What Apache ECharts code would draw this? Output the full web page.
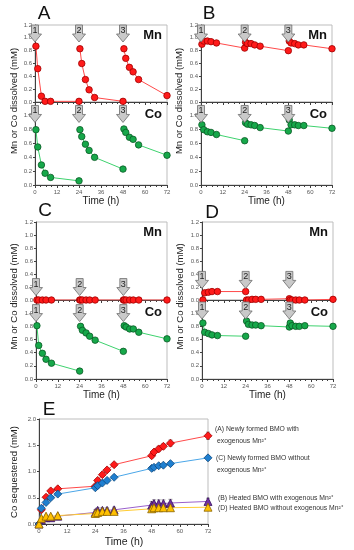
<!DOCTYPE html>
<html><head><meta charset="utf-8">
<script src="https://cdn.jsdelivr.net/npm/echarts@6/dist/echarts.min.js"></script>
<style>html,body{margin:0;padding:0;background:#fff}#c{width:354px;height:550px}</style>
</head><body><div id="c"></div><script>
// ---------- data ----------
const cycleTimes = [[0.5,1.5,3.5,5.5,8.5,24],[24.5,25.5,27.5,29.5,32.5,48],[48.5,49.5,51.5,53.5,56.5,72]];
const additionTimes = [0, 24, 48];
const additionLabels = ['1', '2', '3'];
const mnA = [[0.87,0.52,0.09,0.01,0.01,0.01],[0.83,0.60,0.35,0.19,0.07,0.01],[0.83,0.68,0.54,0.47,0.35,0.10]];
const coA = [[0.80,0.55,0.29,0.17,0.11,0.06],[0.80,0.70,0.59,0.50,0.40,0.23],[0.81,0.76,0.69,0.66,0.58,0.43]];
const mnB = [[0.90,0.95,0.95,0.94,0.92,0.84],[0.93,0.91,0.91,0.89,0.87,0.80],[0.95,0.92,0.91,0.89,0.89,0.83]];
const coB = [[0.87,0.80,0.77,0.76,0.73,0.64],[0.90,0.88,0.87,0.86,0.83,0.78],[0.94,0.87,0.87,0.86,0.86,0.82]];
const mnC = [[0.00,0.00,0.00,0.00,0.00,0.00],[0.00,0.00,0.00,0.00,0.00,0.00],[0.00,0.00,0.00,0.00,0.00,0.00]];
const coC = [[0.81,0.51,0.39,0.30,0.24,0.12],[0.80,0.74,0.70,0.65,0.59,0.42],[0.81,0.79,0.76,0.76,0.71,0.61]];
const mnD = [[0.00,0.11,0.12,0.13,0.13,0.13],[0.00,0.00,0.01,0.01,0.01,0.02],[0.00,0.00,0.00,0.00,0.00,0.01]];
const coD = [[0.85,0.71,0.69,0.67,0.66,0.65],[0.88,0.83,0.82,0.82,0.81,0.79],[0.85,0.81,0.80,0.80,0.81,0.80]];

const timesE = [0,1,3,5,8,24,25,27,29,32,48,49,51,53,56,72];
const seqA = [0,0.27,0.51,0.63,0.67,0.72,0.83,0.94,1.03,1.13,1.30,1.37,1.43,1.48,1.54,1.68];
const seqC = [0,0.30,0.41,0.50,0.57,0.69,0.73,0.78,0.83,0.89,1.06,1.08,1.11,1.12,1.15,1.26];
const seqB = [0,0.08,0.12,0.12,0.15,0.22,0.26,0.26,0.26,0.27,0.36,0.39,0.39,0.39,0.40,0.43];
const seqD = [0,0.11,0.15,0.15,0.16,0.20,0.22,0.24,0.24,0.24,0.29,0.31,0.31,0.31,0.31,0.32];
const errA = [0,0.02,0.02,0.02,0.02,0.03,0.03,0.03,0.03,0.03,0.04,0.04,0.05,0.05,0.06,0.07];
const errC = [0,0.02,0.02,0.02,0.02,0.02,0.02,0.02,0.02,0.02,0.03,0.03,0.03,0.03,0.03,0.04];
const errB = [0,0.02,0.02,0.02,0.02,0.05,0.05,0.05,0.05,0.05,0.07,0.07,0.07,0.07,0.07,0.06];
const errD = [0,0.02,0.02,0.02,0.02,0.04,0.04,0.04,0.04,0.04,0.05,0.05,0.05,0.05,0.05,0.04];
const legendE = ['(A) Newly formed BMO with', 'exogenous Mn²⁺', '(C) Newly formed BMO without', 'exogenous Mn²⁺',
  '(B) Heated BMO with exogenous Mn²⁺', '(D) Heated BMO without exogenous Mn²⁺'];
const timeTicks = [0,12,24,36,48,60,72];

// ---------- styling ----------
const RED = {fill:'#ff1a1a', border:'#a00000', line:'#ff4a4a'};
const GREEN = {fill:'#16a84a', border:'#0b5a26', line:'#3ed26e'};
const AX = '#404040', LAB = '#595959', FRAME = '#bdbdbd';

const grids = [], xAxes = [], yAxes = [], series = [], graphics = [];

function addGrid(left, top, width, height) {
  grids.push({left, top, width, height, show:true, borderColor:FRAME, borderWidth:1, backgroundColor:'transparent'});
  return grids.length - 1;
}
function addX(gi, labels) {
  xAxes.push({type:'value', gridIndex:gi, min:0, max:72, interval:12,
    axisLine:{show:true, onZero:false, lineStyle:{color:AX, width:1}},
    axisTick:{show:true, length:3, lineStyle:{color:AX}},
    minorTick:{show:true, splitNumber:4, length:2, lineStyle:{color:AX}},
    splitLine:{show:false},
    axisLabel:{show:labels, fontSize:6, color:LAB, margin:4, fontFamily:'Liberation Sans'}});
  return xAxes.length - 1;
}
function addY(gi, max, interval, hideTop) {
  yAxes.push({type:'value', gridIndex:gi, min:0, max:max, interval:interval,
    axisLine:{show:true, lineStyle:{color:AX, width:1}},
    axisTick:{show:true, length:2, lineStyle:{color:AX}},
    splitLine:{show:false},
    axisLabel:{fontSize:6, color:LAB, margin:3, fontFamily:'Liberation Sans',
      formatter: v => (hideTop && v >= max - 1e-9) ? '' : v.toFixed(1)}});
  return yAxes.length - 1;
}
function arrowMarks(top) {
  return {symbol:'path://M3,0 L10,0 L10,9 L13,9 L6.5,17 L0,9 L3,9 Z', symbolSize:[13,17], symbolKeepAspect:false,
    symbolOffset:[0,'50%'], silent:true, animation:false,
    itemStyle:{color:'#c9c9c9', borderColor:'#6e6e6e', borderWidth:0.8},
    label:{show:true, color:'#222', fontSize:9, fontFamily:'Liberation Sans', offset:[0,-3],
      formatter: p => p.name},
    data: additionTimes.map((t,i)=>({name:additionLabels[i], coord:[t, top]}))};
}
function addCycles(xi, yi, vals, col, arrowTop) {
  vals.forEach((cyc, ci) => {
    const s = {type:'line', xAxisIndex:xi, yAxisIndex:yi, animation:false,
      data: cycleTimes[ci].map((t,j)=>[t, cyc[j]]),
      symbol:'circle', symbolSize:6.5, showAllSymbol:true,
      itemStyle:{color:col.fill, borderColor:col.border, borderWidth:0.8},
      lineStyle:{color:col.line, width:1}, z:3};
    if (ci === 0) s.markPoint = arrowMarks(arrowTop);
    series.push(s);
  });
}
function text(x, y, str, font, opts) {
  graphics.push(Object.assign({type:'text', x, y, silent:true,
    style:Object.assign({text:str, font, fill:'#111', textAlign:'center', textVerticalAlign:'middle'}, opts && opts.style || {})},
    opts && opts.rot ? {rotation:opts.rot} : {}));
}

function panel(letter, left, width, mnTop, mnH, coH, mn, co, mnArrow, coArrow, letterPos, titleX) {
  const g1 = addGrid(left, mnTop, width, mnH);
  const g2 = addGrid(left, mnTop + mnH, width, coH);
  const x1 = addX(g1, false), y1 = addY(g1, 1.2, 0.2, false);
  const x2 = addX(g2, true), y2 = addY(g2, 1.2, 0.2, true);
  addCycles(x1, y1, mn, RED, mnArrow);
  addCycles(x2, y2, co, GREEN, coArrow);
  text(letterPos[0], letterPos[1], letter, '19px "Liberation Sans"');
  text(left + width - 5, mnTop + 10, 'Mn', 'bold 13px "Liberation Sans"', {style:{textAlign:'right'}});
  text(left + width - 5, mnTop + mnH + 12, 'Co', 'bold 13px "Liberation Sans"', {style:{textAlign:'right'}});
  text(left + width/2, mnTop + mnH + coH + 16, 'Time (h)', '10px "Liberation Sans"', {style:{fill:'#222'}});
  text(titleX, mnTop + (mnH + coH)/2 - 4, 'Mn or Co dissolved (mM)', '9.5px "Liberation Sans"', {rot:Math.PI/2, style:{fill:'#222'}});
}

panel('A', 35, 132, 25, 77, 83, mnA, coA, 1.2, 1.15, [44, 14], 14);
panel('B', 201, 131, 25, 77, 83, mnB, coB, 1.2, 1.15, [209, 14], 179);
panel('C', 36, 131, 222, 78, 79, mnC, coC, 0.33, 1.13, [45, 211], 14);
panel('D', 202, 131, 222, 78, 79, mnD, coD, 0.44, 1.17, [212, 213], 180);

// ---------- panel E ----------
const gE = addGrid(39, 419, 169, 105);
const xE = addX(gE, true);
const yE = addY(gE, 2.0, 0.5, false);
const eSeries = [
  {vals:seqA, err:errA, sym:'diamond', fill:'#ff1a1a', border:'#a00000', line:'#ff4a4a', size:8},
  {vals:seqC, err:errC, sym:'diamond', fill:'#1f7fd0', border:'#0e4a80', line:'#4aa6e8', size:8},
  {vals:seqB, err:errB, sym:'triangle', fill:'#7030a0', border:'#3a1060', line:'#9a60cc', size:8},
  {vals:seqD, err:errD, sym:'triangle', fill:'#ffc000', border:'#8a6400', line:'#ffcc33', size:8}
];
eSeries.forEach(e => {
  series.push({type:'custom', xAxisIndex:xE, yAxisIndex:yE, animation:false, silent:true, z:2,
    data: timesE.map((t,i)=>[t, e.vals[i], e.err[i]]),
    renderItem: (params, api) => {
      const t = api.value(0), v = api.value(1), er = api.value(2);
      const p1 = api.coord([t, v - er]), p2 = api.coord([t, v + er]);
      const st = {stroke:'#8c8c8c', lineWidth:0.8};
      return {type:'group', children:[
        {type:'line', shape:{x1:p1[0], y1:p1[1], x2:p2[0], y2:p2[1]}, style:st},
        {type:'line', shape:{x1:p1[0]-2, y1:p1[1], x2:p1[0]+2, y2:p1[1]}, style:st},
        {type:'line', shape:{x1:p2[0]-2, y1:p2[1], x2:p2[0]+2, y2:p2[1]}, style:st}]};
    }});
  series.push({type:'line', xAxisIndex:xE, yAxisIndex:yE, animation:false, z:3,
    data: timesE.map((t,i)=>[t, e.vals[i]]),
    symbol:e.sym, symbolSize:e.size, showAllSymbol:true,
    itemStyle:{color:e.fill, borderColor:e.border, borderWidth:0.8},
    lineStyle:{color:e.line, width:1}});
});
text(49, 410, 'E', '19px "Liberation Sans"');
text(14, 472, 'Co sequestered (mM)', '9.5px "Liberation Sans"', {rot:Math.PI/2, style:{fill:'#222'}});
text(124, 542, 'Time (h)', '10.5px "Liberation Sans"', {style:{fill:'#222'}});
const legY = [429, 441, 458, 470, 498, 508];
const legX = [215, 217, 216, 217, 218, 218];
legendE.forEach((s,i) => text(legX[i], legY[i], s, '6.8px "Liberation Sans"', {style:{textAlign:'left', fill:'#333'}}));

const chart = echarts.init(document.getElementById('c'), null, {renderer:'canvas'});
chart.setOption({animation:false, grid:grids, xAxis:xAxes, yAxis:yAxes, series:series, graphic:graphics});
</script></body></html>
